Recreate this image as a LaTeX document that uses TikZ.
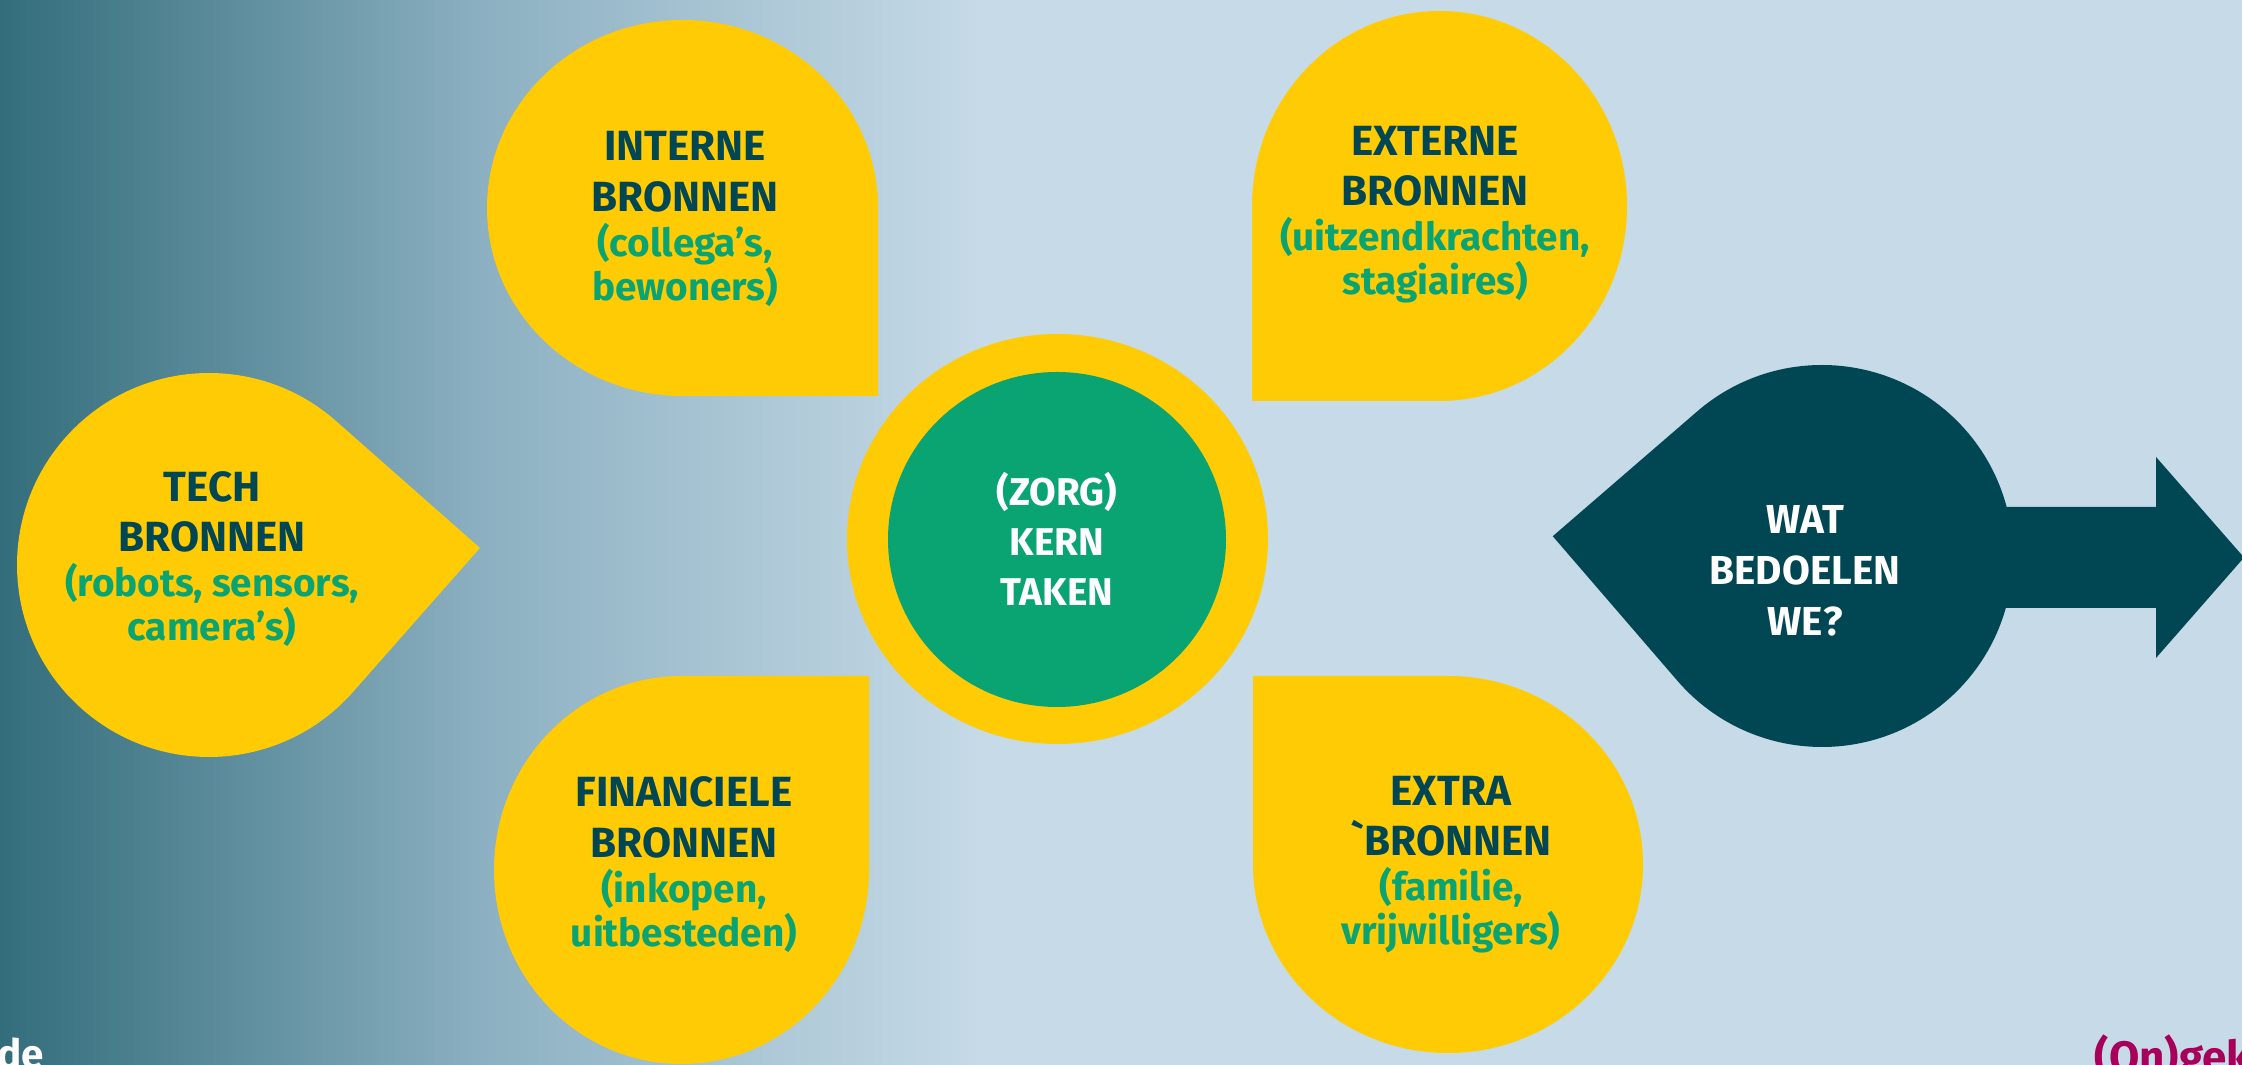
\documentclass[tikz,border=0pt]{standalone}
\usepackage{fontspec}
\setmainfont{Fira Sans}
\usepackage{tikz}
\usetikzlibrary{positioning,calc}
\definecolor{bgdark}{HTML}{336D7B}
\definecolor{bgmid}{HTML}{8DB1C2}
\definecolor{bglight}{HTML}{C6DAE7}
\definecolor{geel}{HTML}{FFCB05}
\definecolor{donker}{HTML}{004653}
\definecolor{groen}{HTML}{09A472}
\definecolor{roze}{HTML}{A6005A}
\tikzstyle{drop}=[fill=geel]
\tikzstyle{bron}=[align=center,inner sep=0pt,text=donker,font=\fontsize{12}{12.5}\selectfont\bfseries]
\tikzstyle{kern}=[align=center,inner sep=0pt,text=white,font=\fontsize{11}{14.2}\selectfont\bfseries]
\newcommand{\grn}[1]{{\fontsize{11}{12.5}\selectfont\color{groen}#1}}

\begin{document}
\begin{tikzpicture}[x=0.01cm,y=-0.01cm]
    \useasboundingbox (0,0) rectangle (2242,1065);
    \clip (0,0) rectangle (2242,1065);
    \shade[left color=bgdark,right color=bgmid] (0,0) rectangle (491,1065);
    \shade[left color=bgmid,right color=bglight] (490,0) rectangle (981,1065);
    \fill[bglight] (980,0) rectangle (2242,1065);

    \coordinate (tc) at (209,565);
    \coordinate (dc) at (1822,556);

    \fill[drop] ([shift={(-3.6:271.5)}]tc) -- ([shift={(41.4:192)}]tc)
      arc[start angle=41.4,end angle=311.4,radius=192] -- cycle;
    \fill[drop] (878,396) -- (682.5,396)
      arc[start angle=90,end angle=360,x radius=195.5,y radius=188] -- cycle;
    \fill[drop] (1252,401) -- (1252,206)
      arc[start angle=180,end angle=450,x radius=187.5,y radius=195] -- cycle;
    \fill[drop] (869,676) -- (681.5,676)
      arc[start angle=270,end angle=0,x radius=187.5,y radius=194] -- cycle;
    \fill[drop] (1253,676) -- (1448,676)
      arc[start angle=270,end angle=540,x radius=195,y radius=188.5] -- cycle;

    \fill[geel] (1057.5,539) ellipse[x radius=210.5,y radius=205];
    \fill[groen] (1057,539.5) ellipse[x radius=169,y radius=167.5];

    \fill[donker] ([shift={(184.2:270)}]dc) -- ([shift={(229.2:191)}]dc)
      arc[start angle=229.2,end angle=499.2,radius=191] -- cycle;
    \fill[donker] (1900,507) -- (2156,507) -- (2156,457) -- (2244,557.5)
      -- (2156,658) -- (2156,608) -- (1900,608) -- cycle;

    \node[bron] (tech) at (212,559) {TECH\\[1.9pt]BRONNEN\\[0.3pt]\grn{(robots, sensors,}\\\grn{camera’s)}};
    \node[bron] (intern) at (685,219) {INTERNE\\[1.9pt]BRONNEN\\[0.3pt]\grn{(collega’s,}\\\grn{bewoners)}};
    \node[bron] (extern) at (1435,214.5) {EXTERNE\\[1.9pt]BRONNEN\\[0.3pt]\grn{(uitzendkrachten,}\\\grn{stagiaires)}};
    \node[bron] (financ) at (684,864.5) {FINANCIELE\\[1.9pt]BRONNEN\\[0.3pt]\grn{(inkopen,}\\\grn{uitbesteden)}};
    \node[bron] (extra) at (1451,864.5) {EXTRA\\[1.9pt]{\addfontfeatures{Ligatures=TeXOff}`}BRONNEN\\[0.3pt]\grn{(familie,}\\\grn{vrijwilligers)}};
    \node[kern] (taken) at (1057,539) {(ZORG)\\KERN\\TAKEN};
    \node[kern,font=\fontsize{11.5}{14.5}\selectfont\bfseries] (wat) at (1805,570.5) {WAT\\BEDOELEN\\WE?};

    \node[anchor=base west,inner sep=0pt,text=white,font=\fontsize{11.5}{12}\selectfont\bfseries] (de) at (-3,1069) {de};
    \node[anchor=base west,inner sep=0pt,text=roze,font=\fontsize{12.5}{14}\selectfont\bfseries] (logo) at (2094,1073) {(On)gek};
\end{tikzpicture}
\end{document}
